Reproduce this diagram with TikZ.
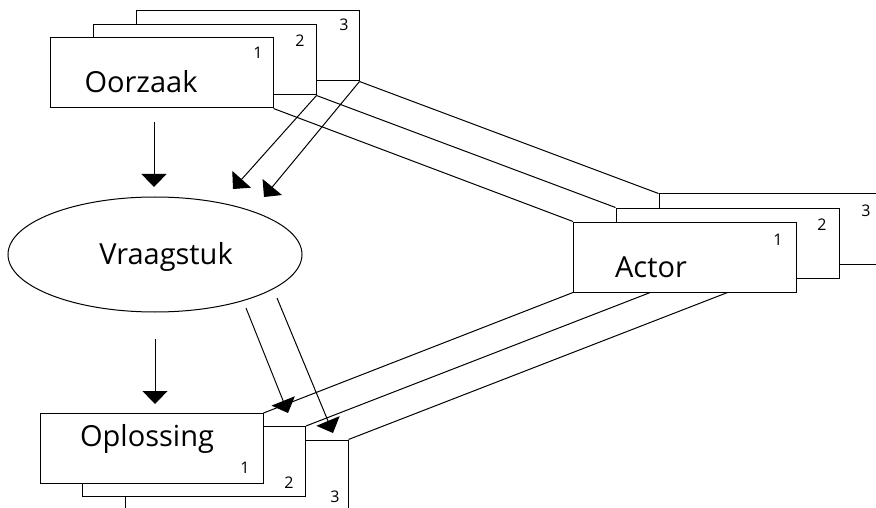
\documentclass[tikz,border=0pt]{standalone}
\usepackage{fontspec}
\setmainfont{Open Sans}
\usetikzlibrary{shapes.geometric,arrows.meta,calc}
\tikzset{
  card/.style={draw, fill=white, rectangle, inner sep=0pt, minimum width=223pt, minimum height=70pt, line width=1pt},
  lbl/.style={font=\fontsize{29}{32}\selectfont, inner sep=0pt},
  num/.style={font=\fontsize{16}{18}\selectfont, inner sep=0pt},
  link/.style={line width=1pt},
  arr/.style={line width=1pt, -{Triangle[length=13pt,width=25pt]}},
  issue/.style={draw, ellipse, inner sep=0pt, minimum width=294pt, minimum height=115pt, line width=1pt}
}
\begin{document}
\begin{tikzpicture}[x=1pt,y=-1pt]
\useasboundingbox (0,0) rectangle (876,508);
\clip (0,0) rectangle (876,508);

% Oorzaak stack
\node[card] (o3) at (247.5,46) {};
\node[card] (o2) at (204.5,60) {};
\node[card] (o1) at (161.5,73) {};
\node[lbl] (ot) at (141,82) {Oorzaak};
\node[num] (on1) at (258,53) {1};
\node[num] (on2) at (300,41) {2};
\node[num] (on3) at (344,25) {3};

% Actor stack
\node[card] (a3) at (770.5,229) {};
\node[card] (a2) at (727.5,243) {};
\node[card] (a1) at (685,257) {};
\node[lbl] (at) at (651,267) {Actor};
\node[num] (an1) at (778,240) {1};
\node[num] (an2) at (822,225) {2};
\node[num] (an3) at (866,211) {3};

% Oplossing stack
\node[card] (p3) at (236.5,475) {};
\node[card] (p2) at (194,461.5) {};
\node[card] (p1) at (151.5,448.5) {};
\node[lbl] (pt) at (147,439) {Oplossing};
\node[num] (pn1) at (245,468) {1};
\node[num] (pn2) at (289,483) {2};
\node[num] (pn3) at (335,497) {3};

% Vraagstuk
\node[issue] (v) at (155,254.5) {};
\node[lbl] (vt) at (166,257) {Vraagstuk};

% links between Oorzaak and Actor
\draw[link] (o1.south east) -- (a1.north west);
\draw[link] (o2.south east) -- (a2.north west);
\draw[link] (o3.south east) -- (a3.north west);

% links between Actor and Oplossing
\draw[link] (a1.south west) -- (p1.north east);
\draw[link] ($(a1.south west)!0.345!(a1.south east)$) -- (p2.north east);
\draw[link] ($(a1.south west)!0.69!(a1.south east)$) -- (p3.north east);

% arrows from Oorzaak to Vraagstuk
\coordinate (t1) at (233,189);
\coordinate (t2) at (264,197);
\draw[arr] (o2.south east) -- (t1);
\draw[arr] (o3.south east) -- (t2);
\coordinate (s0) at (154,122);
\coordinate (t0) at (154,187);
\draw[arr] (s0) -- (t0);

% arrows from Vraagstuk to Oplossing
\coordinate (s4) at (155,339);
\coordinate (t4) at (155,404);
\draw[arr] (s4) -- (t4);
\coordinate (s5) at (246,308);
\coordinate (t5) at (288,413);
\coordinate (s6) at (277,298);
\coordinate (t6) at (333,433);
\draw[arr] (s5) -- (t5);
\draw[arr] (s6) -- (t6);
\end{tikzpicture}
\end{document}
